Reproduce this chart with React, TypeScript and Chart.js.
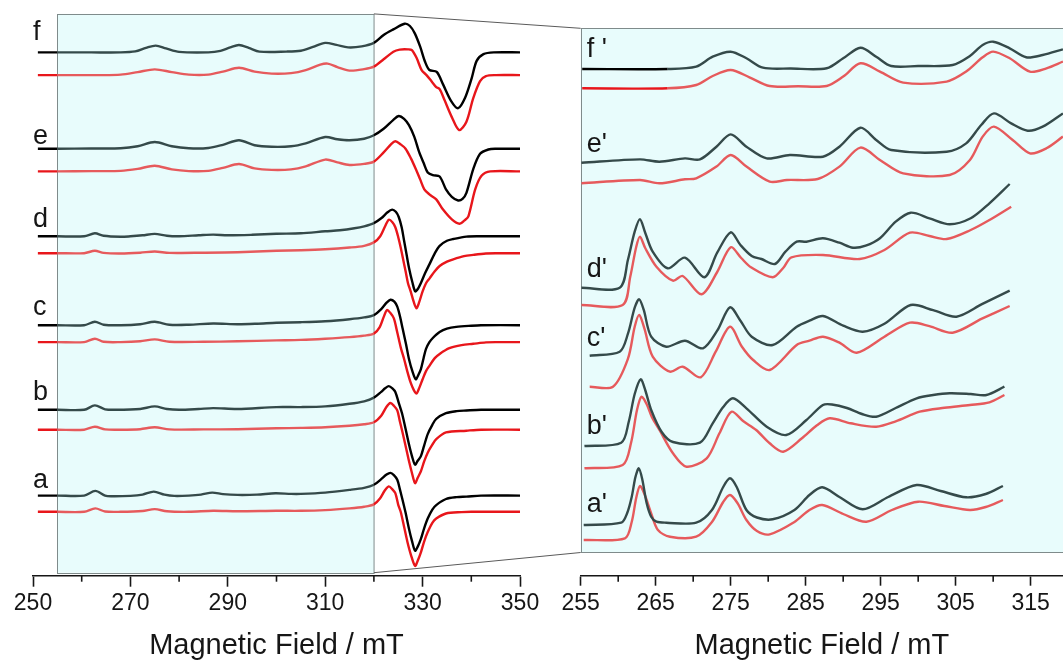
import React, { useEffect, useRef } from "react";
import { Chart, registerables } from "chart.js";
Chart.register(...registerables);

type Pt = [number, number];

// ---------- axis ticks ----------
const leftMajorTicks = [250, 270, 290, 310, 330, 350];
const leftMinorTicks = [260, 280, 300, 320, 340];
const rightMajorTicks = [255, 265, 275, 285, 295, 305, 315];
const rightMinorTicks = [260, 270, 280, 290, 300, 310];
const axisTitle = "Magnetic Field / mT";

// ---------- left panel spectra (field mT, relative intensity) ----------
const aBlack: Pt[] = [[251,0],[255,0],[260.5,0],[262.8,4.7],[264.8,0],[266,-0.7],[270,-0.3],[272.5,1],[274.8,4],[277,1],[279,-0.3],[282,0],[284.5,1],[286.8,3],[289,1.5],[292,0.7],[296,1],[299.8,2.4],[303,1.7],[305,1.7],[310,3],[315,5.7],[318,7.8],[320,10.8],[321.5,16.5],[322.6,21],[323.4,22.7],[324.1,20.5],[324.8,15.9],[325.3,7],[325.8,-2.7],[326.5,-17],[327.2,-33.1],[327.8,-45],[328.45,-55.1],[329,-51],[329.65,-43.3],[330.3,-33],[331.05,-23],[332,-14],[332.8,-9.5],[334.8,-3.4],[337,-1.5],[339,-1],[342,0],[350,0]];
const aRed: Pt[] = [[251,0],[255,0],[260.5,0],[262.8,3.4],[264.8,0.3],[268,0],[272.5,0.8],[275,2.7],[277.5,0.5],[282,0],[287,1],[292,0.5],[300,1],[305,1],[310,1.7],[315,3.4],[318,5],[320,7.4],[321.2,13],[322.2,21],[323.06,25.4],[323.8,22.5],[324.4,18.6],[325,7],[325.5,0],[326.2,-15],[326.9,-30.4],[327.6,-43],[328.45,-54.1],[329,-49],[329.65,-40.6],[330.3,-30],[331.05,-20.3],[332,-11],[332.8,-6.8],[334.8,-1.7],[338,-0.3],[340,0],[350,0]];
const bBlack: Pt[] = [[251,0],[255,0],[260.5,0],[262.7,4.4],[264.8,0.5],[267,0],[272,0.8],[275,3.4],[277.5,0.8],[280,0],[284,0.8],[287,1.7],[292,0.8],[300,2.7],[305,2.7],[310,3.4],[315,6],[318,8.5],[320,12.2],[321.5,18],[322.3,21.5],[323.06,23.7],[323.8,21.5],[324.4,17.9],[325.1,7],[325.8,-4],[326.5,-19],[327.2,-34.5],[327.8,-46],[328.45,-54.8],[329,-51],[329.65,-46.3],[330.3,-36],[331.05,-24.3],[332,-15],[332.8,-9.1],[334.8,-3.4],[337,-1.3],[339,-0.7],[342,0],[350,0]];
const bRed: Pt[] = [[251,0],[255,0],[260.5,0],[262.7,3],[264.8,0.3],[268,0],[272,0.5],[275,2.4],[278,0.3],[285,0.3],[292,0.5],[300,1.4],[305,1.8],[310,2.5],[315,4],[318,5.5],[320,7.4],[321.5,14],[322.6,23],[323.4,26.7],[324.1,24],[324.8,19.3],[325.3,9],[325.8,-1],[326.5,-16],[327.2,-31.4],[327.8,-43],[328.45,-53.4],[329,-48],[329.65,-41.6],[330.3,-32],[331.05,-23],[332,-15],[332.8,-9.5],[334.8,-2.7],[339,-1],[342,0],[350,0]];
const cBlack: Pt[] = [[251,0],[255,0],[260.5,0],[262.7,3.4],[264.5,0.5],[268,0],[272,1],[275,3.4],[278,0.5],[282,0.5],[287,1.7],[292,1],[296,1.5],[300,2.4],[305,3],[310,4],[315,6],[318,7.8],[320,10.1],[321.5,16],[322.6,22.5],[323.4,25.4],[324.2,23.5],[324.8,18.6],[325.4,8],[325.9,-3.4],[326.6,-19],[327.2,-33.8],[327.9,-46],[328.6,-54.1],[329.1,-50],[329.65,-43.9],[330.2,-33],[330.7,-23.7],[331.4,-17],[332.1,-12.8],[333.5,-6.8],[335,-3.5],[336.9,-1.7],[340,-0.5],[342,0],[350,0]];
const cRed: Pt[] = [[251,0],[255,0],[260.5,0],[262.7,3.4],[264.5,0.3],[268,0],[272,0.8],[275,2.7],[278,0.3],[285,0.3],[292,0.8],[300,1.7],[305,2.2],[310,3.4],[315,5],[318,6.5],[320,8.5],[321.2,15],[322,25],[322.7,32.1],[323.4,29],[324.1,23.7],[324.6,14],[325.1,3.4],[325.6,-7],[326.2,-16.9],[326.9,-30],[327.55,-40.6],[328.2,-48],[328.75,-51.4],[329.3,-46],[330,-37.2],[330.7,-29],[331.4,-23.7],[332.5,-16],[333.5,-11.8],[335.5,-6.1],[338,-3],[340.4,-1.7],[343,-0.3],[345,0],[350,0]];
const dBlack: Pt[] = [[251,0],[255,0],[260.5,0],[262.7,3],[264.5,0.5],[268,-0.5],[270,0],[272.5,1],[275,2.4],[277.5,0.5],[280,0],[284,1],[287,1.7],[290,1],[295,1.5],[300,2.5],[305,3],[310,5],[313,6],[316,8],[318,10],[320,13.2],[321.5,18],[322.8,24],[323.75,26.7],[324.5,24.5],[325.1,19.3],[325.7,9],[326.2,-4.4],[326.7,-18],[327.2,-31.4],[327.9,-46],[328.5,-55.1],[329.1,-52],[329.65,-46.7],[330.5,-37],[331.4,-28.1],[332.5,-17],[333.5,-9.5],[335,-4.5],[336.3,-2.7],[339,-0.3],[342,0],[350,0]];
const dRed: Pt[] = [[251,0],[255,0],[260.5,0],[262.7,2.4],[264.5,0.3],[268,-0.3],[272,0.5],[275,1.7],[278,0.3],[285,0.5],[292,1],[300,2.4],[305,3],[310,4],[315,5.7],[318,7.4],[320,10.8],[321.3,17],[322.3,27],[323.06,33.5],[323.8,31],[324.4,26],[325,16],[325.5,5.7],[326,-6],[326.5,-17.9],[327,-30],[327.55,-38.2],[328.2,-49],[328.75,-55.1],[329.3,-49],[330,-38.2],[330.7,-30],[331.4,-25.4],[332.5,-18],[333.5,-12.8],[335,-8.5],[336.3,-6.1],[338.5,-3],[340.4,-1.7],[343,-0.3],[345,0],[350,0]];
const eBlack: Pt[] = [[251,0],[255,0],[262,0.3],[268,0.5],[271.5,2.5],[275,6.8],[278.5,2.5],[282,0.5],[286,0.8],[289,4],[292.3,8.5],[295.5,3.5],[299,2],[303,2.5],[306,5.5],[310,11.8],[312.5,9.5],[315,8.5],[318,10],[320,13.5],[322,20],[324,29],[325.1,32.8],[326.2,30],[327.2,23.7],[328.3,12],[329.3,-3.4],[330.2,-14],[331.05,-23.7],[332.1,-26.4],[333.5,-27.7],[334.8,-40.6],[336,-48],[337.3,-51.7],[338.2,-50],[339,-44],[340.4,-20.3],[341.8,-5],[343.5,-0.7],[345,0],[350,0]];
const eRed: Pt[] = [[251,0],[255,0],[262,0.3],[268,0.5],[271.5,2.5],[275,5.7],[278.5,2],[282,0.3],[286,0.5],[289,3.5],[292.3,7.4],[295.5,3],[299,1.5],[303,2],[306,5],[310,11.8],[312.5,9],[315,6.4],[318,7.5],[320,9.8],[322,19],[323.5,27],[324.4,30.1],[325.5,27],[326.5,22.7],[327.6,13],[328.6,2.4],[329.5,-8],[330.35,-17.9],[331.4,-23],[332.8,-28],[334.2,-38.2],[336,-48],[337.6,-52.4],[338.6,-49],[339.4,-45],[340.8,-18],[342.1,-4.4],[343.9,0],[350,0]];
const fBlack: Pt[] = [[251,0],[255,0],[262,0],[268,0],[271,1],[273.2,4.5],[275.2,6.8],[277.3,4],[280,0.5],[286,0],[288.5,1.5],[290.5,5],[292.3,7.4],[294.3,4.5],[296.5,0.8],[302,0.8],[305,1.7],[307.5,5.5],[310,9.5],[312.3,7.5],[314.7,5],[317.5,6],[320,9.5],[322,17.4],[324,23],[326.3,28.7],[327.4,26.4],[328.4,19],[329.5,5.7],[330.5,-9.3],[331.4,-17.6],[332.9,-19.5],[334.2,-32],[335.9,-49],[337.3,-55.8],[338.7,-45.6],[340.1,-25.4],[341.1,-8.5],[342.5,-1.7],[344.6,0],[350,0]];
const fRed: Pt[] = [[251,0],[255,0],[264,0],[268,0.5],[271.5,3],[275,5.7],[278.5,3],[282,0.5],[286,0.5],[289,3.5],[292.3,7.4],[295.5,3.5],[299,1.5],[303,2],[306,5],[309,10.5],[310.5,11.5],[312.5,8],[315,4.5],[318,6],[320,8.5],[322,15.8],[324,23.4],[325.3,25.5],[327,25.7],[327.8,25],[328.8,16.8],[329.8,5],[330.8,0],[331.9,-6.6],[332.8,-12],[333.5,-14],[334.5,-25],[336,-42],[337.5,-55],[339,-46.6],[340.4,-23],[341.8,-6],[343,-1],[345,0],[350,0]];

// ---------- right panel spectra (zoomed region) ----------
const apBlack: Pt[] = [[255.4,0],[260.4,2.3],[261.2,12],[261.8,28],[262.3,48],[262.75,56.7],[263.2,46],[263.8,21.7],[264.4,8.3],[265.1,3.3],[266.4,2.3],[270.4,2.3],[272.5,15],[274,38],[274.9,46.7],[275.8,38],[277.1,15],[278.5,7.5],[280.6,5.7],[283.5,15],[285.5,30],[287.2,37.7],[289.5,28],[292.6,15.7],[296,28],[299.8,40],[303,34],[306.4,27.7],[309,31],[311.3,39]];
const apRed: Pt[] = [[255.4,0],[260.9,1.7],[261.8,18],[262.4,42],[262.9,54],[263.5,46],[264.4,26.7],[265.3,10],[266.9,3.3],[270.4,3.3],[272.5,18],[274,38],[274.9,45],[275.9,37],[277.1,20],[278.5,9],[280.2,5.7],[283.5,18],[285.5,30],[287.2,35],[290,26],[293.1,18.3],[296.5,30],[300,38.3],[303.5,34],[306.9,30],[309,33],[311.3,40]];
const bpBlack: Pt[] = [[255.5,0],[260.4,3.3],[261.4,24],[262.2,52],[263,66.7],[263.6,56],[264.4,36],[265.8,14],[267.3,4],[270.9,3.3],[272.6,22.7],[274,39],[275.3,47.7],[277.1,37.7],[279.8,19.3],[282.4,11],[285.1,26],[287.3,41],[288.5,41.5],[290.5,38],[292.5,32],[294.4,29.3],[297,38],[299.8,47.7],[302,51],[304.2,52.7],[307,52],[309.1,51],[311.5,59.3]];
const bpRed: Pt[] = [[255.5,0],[260.6,3.3],[261.7,25],[262.5,58],[263.1,71.6],[263.8,64],[264.5,51],[265.5,38.3],[267.3,15],[269.1,1.6],[271.8,10],[273.5,35],[275.1,56.6],[276.7,47],[278.4,38.3],[280.2,25],[282,16.6],[284.5,30],[286.5,43],[288.2,50],[291,45],[294.4,41.6],[297,47],[300.2,56.6],[303.5,60.5],[306.9,63.3],[309.5,66],[311.5,73.3]];
const cpBlack: Pt[] = [[256.2,0],[260.2,4],[261.3,22],[262.2,48],[262.8,56.4],[263.4,46],[264.4,19],[266.4,9],[268.9,15],[271.3,7.4],[273.2,25],[274.9,48.4],[276.3,35],[277.8,19],[280.6,10.7],[283.8,29],[285.5,35],[287.3,39.7],[290,30],[292.6,24],[295.5,32],[299,50.7],[302,45.5],[305.1,39],[308.5,51.5],[312.2,65]];
const cpRed: Pt[] = [[256.2,0],[259.3,0],[261.3,28],[262.2,60],[262.8,71.7],[263.5,58],[264.6,30],[266.9,15],[268.6,20],[271,9.4],[273,35],[274.9,60],[276.5,40],[278,26.7],[280.2,16.7],[283.8,41.7],[285.5,46],[287.3,50],[289.5,44],[291.8,34],[295.5,50],[298.9,64],[301.5,60.5],[304.6,54],[308.5,68],[312.2,80.7]];
const dpBlack: Pt[] = [[255.1,0],[260.2,0],[261.3,28],[262.2,56],[262.9,68.4],[263.6,55],[264.6,36],[266.6,19.4],[268.9,30],[271.5,10.4],[273.2,35],[275,55.4],[276.3,42.7],[277.8,31.7],[279.1,28.7],[280.9,23.7],[282.3,36],[283.8,46],[285.1,46],[287.3,49.4],[289.5,45],[291.3,40],[293,42],[294.9,49.4],[297,66],[299,75],[301.5,69.4],[304.2,63.4],[307,69.4],[309.5,84.4],[312.2,103.7]];
const dpRed: Pt[] = [[255.1,0],[260.6,0],[261.6,28],[262.4,58],[262.9,68.3],[263.6,57],[265.1,38.3],[267.3,24.3],[268.6,29],[271.1,10.7],[273.2,33],[275,57.7],[276.4,47],[277.7,37.7],[280.6,27.7],[282,37],[283.1,47.7],[287.3,50],[292.2,46],[295.5,55],[298.9,72.3],[301.5,69],[303.8,66],[307,75],[309.5,85],[312.4,98.3]];
const epBlack: Pt[] = [[255.1,0],[262.9,3.3],[265.5,1],[268.9,4.3],[270.9,3.3],[273.1,16],[275,28.3],[277.1,16],[279.8,4.3],[282.9,7.7],[287.3,6],[289.5,16],[292.3,35],[294.4,22.7],[296.4,12.7],[303.8,11],[306.4,19.3],[308.4,37.7],[310.1,49.3],[312.4,39.3],[314.6,32],[316.6,36],[319.3,49.3]];
const epRed: Pt[] = [[255.1,0],[262.9,3.3],[265.5,0],[268.9,4],[270.4,5],[273.1,16.7],[275,28.3],[277.1,16.7],[280.2,1.7],[282.5,3.3],[286.6,4.3],[289.5,16.7],[292.3,35.7],[294.9,23.3],[298,10],[304.2,8.3],[306.9,23.3],[308.6,46.7],[310.1,56.7],[312.6,43.3],[314.9,30],[317.1,35],[319.3,46.7]];
const fpBlack: Pt[] = [[255.2,0],[266.6,0],[270.4,2.3],[272.6,12.3],[275,17.3],[277.1,10.7],[279.3,1.3],[283,0.5],[287.8,0.7],[290,10.7],[292.3,21.3],[294.4,12.3],[296.4,3],[300,3],[304.6,4],[306.9,13],[308.6,24],[310,27.3],[312.2,20.7],[314.4,11.7],[316.6,14],[319.3,19.7]];
const fpRed: Pt[] = [[255.2,0],[266.6,0],[270.4,3.3],[272.6,12.3],[275,18.3],[277.5,11],[280.2,2.3],[284,2],[287.8,2.3],[290,11.7],[292.3,25],[294.9,16.7],[298,5.7],[303.8,6.7],[306.4,16.7],[308.6,31],[310,36.7],[312.2,30],[314.9,16.7],[317.1,20],[319.3,26.7]];

// stacking offsets (a..f)
const leftBlackOffsets = [80.1, 165.9, 250.5, 339.4, 426.9, 523.3];
const leftRedOffsets = [63.9, 146, 233.6, 322.5, 404.3, 500.6];
const rightBlackOffsets = [50.7, 129.7, 220, 288, 413, 506.7];
const rightRedOffsets = [35.7, 107.4, 189, 270.7, 392.4, 487.4];

const leftBlackSeries = [aBlack, bBlack, cBlack, dBlack, eBlack, fBlack];
const leftRedSeries = [aRed, bRed, cRed, dRed, eRed, fRed];
const rightBlackSeries = [apBlack, bpBlack, cpBlack, dpBlack, epBlack, fpBlack];
const rightRedSeries = [apRed, bpRed, cpRed, dpRed, epRed, fpRed];

const leftLabels = ["a", "b", "c", "d", "e", "f"];
const rightLabels = ["a'", "b'", "c'", "d'", "e'", "f '"];
const leftLabelY = [88.2, 175.4, 260.7, 348.5, 432, 535.7];
const rightLabelY = [64, 141.7, 230, 299, 424, 519];

// ---------- styling ----------
const FONT = '"Liberation Sans", Arial, Helvetica, sans-serif';
const INK = "#161616";
const BLACK = "#000000";
const RED = "#e8161b";
const SLATE = "#354a4a";
const LIGHT_RED = "#e65a5c";
const SHADE = "#e8fcfc";
const BOX_LINE = "#7f8b8b";
const W = 1063;
const H = 663;
const AXIS_Y = 575.7;
const LEFT_W = 545;

const leftBox = { xMin: 255, xMax: 320, yMin: 3, yMax: 561.8 };
const rightBox = { xMin: 255, xMax: 330, yMin: 23.2, yMax: 547.4 };
const rightPureUntil = 266.6; // f' traces drawn unshaded below this field

function segColor(test: (x: number, i: number) => boolean, inside: string, outside: string, idx: number) {
  return (ctx: any) => {
    const m = (ctx.p0.parsed.x + ctx.p1.parsed.x) / 2;
    return test(m, idx) ? inside : outside;
  };
}

function buildDatasets(
  blacks: Pt[][], reds: Pt[][], bOff: number[], rOff: number[],
  test: (x: number, i: number) => boolean
) {
  const ds: any[] = [];
  blacks.forEach((s, i) => {
    ds.push({
      data: s.map(([x, y]) => ({ x, y: y + bOff[i] })),
      borderColor: BLACK,
      segment: { borderColor: segColor(test, SLATE, BLACK, i) },
    });
  });
  reds.forEach((s, i) => {
    ds.push({
      data: s.map(([x, y]) => ({ x, y: y + rOff[i] })),
      borderColor: RED,
      segment: { borderColor: segColor(test, LIGHT_RED, RED, i) },
    });
  });
  return ds;
}

function shadePlugin(box: { xMin: number; xMax: number; yMin: number; yMax: number }) {
  return {
    id: "shade",
    beforeDatasetsDraw(chart: any) {
      const { ctx, scales } = chart;
      const x0 = scales.x.getPixelForValue(box.xMin);
      const x1 = scales.x.getPixelForValue(box.xMax);
      const y0 = scales.y.getPixelForValue(box.yMax);
      const y1 = scales.y.getPixelForValue(box.yMin);
      ctx.save();
      ctx.fillStyle = SHADE;
      ctx.fillRect(x0, y0, x1 - x0, y1 - y0);
      ctx.strokeStyle = BOX_LINE;
      ctx.lineWidth = 1;
      ctx.strokeRect(Math.round(x0) + 0.5, Math.round(y0) + 0.5, x1 - x0, Math.round(y1 - y0));
      ctx.restore();
    },
  };
}

function labelPlugin(texts: string[], ys: number[], xVal: number) {
  return {
    id: "seriesLabels",
    afterDatasetsDraw(chart: any) {
      const { ctx, scales } = chart;
      ctx.save();
      ctx.fillStyle = INK;
      ctx.font = `27px ${FONT}`;
      ctx.textAlign = "left";
      ctx.textBaseline = "alphabetic";
      texts.forEach((t, i) => {
        ctx.fillText(t, scales.x.getPixelForValue(xVal), scales.y.getPixelForValue(ys[i]));
      });
      ctx.restore();
    },
  };
}

function minorPlugin(values: number[], len: number) {
  return {
    id: "minorTicks",
    afterDraw(chart: any) {
      const s = chart.scales.x;
      const ctx = chart.ctx;
      ctx.save();
      ctx.strokeStyle = INK;
      ctx.lineWidth = 1.6;
      values.forEach((v) => {
        const x = s.getPixelForValue(v);
        ctx.beginPath();
        ctx.moveTo(x, s.top);
        ctx.lineTo(x, s.top + len);
        ctx.stroke();
      });
      ctx.restore();
    },
  };
}

function makeConfig(opts: {
  datasets: any[]; min: number; max: number; major: number[]; minor: number[];
  padLeft: number; padRight: number; tickLen: number; tickPad: number; plugins: any[];
}) {
  return {
    type: "line" as const,
    data: { datasets: opts.datasets },
    options: {
      animation: false as const,
      responsive: false,
      layout: { padding: { left: opts.padLeft, right: opts.padRight, top: 0, bottom: 0 } },
      plugins: { legend: { display: false }, tooltip: { enabled: false } },
      elements: {
        point: { radius: 0 },
        line: { borderWidth: 2.4, cubicInterpolationMode: "default" as const, tension: 0.3, fill: false },
      },
      scales: {
        x: {
          type: "linear" as const,
          min: opts.min,
          max: opts.max,
          afterBuildTicks: (axis: any) => {
            axis.ticks = opts.major.map((v) => ({ value: v }));
          },
          afterFit: (axis: any) => {
            axis.height = H - AXIS_Y;
          },
          ticks: {
            autoSkip: false,
            maxRotation: 0,
            padding: opts.tickPad,
            color: INK,
            font: { family: FONT, size: 23 },
          },
          grid: {
            display: true,
            drawOnChartArea: false,
            drawTicks: true,
            tickLength: opts.tickLen,
            tickColor: INK,
            tickWidth: 1.6,
          },
          border: { display: true, color: INK, width: 1.6 },
          title: {
            display: true,
            text: axisTitle,
            color: INK,
            font: { family: FONT, size: 29 },
            padding: { top: 0, bottom: 0 },
          },
        },
        y: { type: "linear" as const, display: false, min: 0, max: AXIS_Y },
      },
    },
    plugins: opts.plugins,
  };
}

export default function App() {
  const leftRef = useRef<HTMLCanvasElement>(null);
  const rightRef = useRef<HTMLCanvasElement>(null);
  const overRef = useRef<HTMLCanvasElement>(null);

  useEffect(() => {
    document.body.style.margin = "0";
    const inLeftBox = (x: number) => x > leftBox.xMin && x < leftBox.xMax;
    const inRightShade = (x: number, i: number) => !(i === 5 && x < rightPureUntil);

    const left = new Chart(
      leftRef.current as HTMLCanvasElement,
      makeConfig({
        datasets: buildDatasets(leftBlackSeries, leftRedSeries, leftBlackOffsets, leftRedOffsets, inLeftBox),
        min: 250, max: 350, major: leftMajorTicks, minor: leftMinorTicks,
        padLeft: 33, padRight: LEFT_W - 520, tickLen: 11, tickPad: 3,
        plugins: [shadePlugin(leftBox), labelPlugin(leftLabels, leftLabelY, 250), minorPlugin(leftMinorTicks, 6)],
      }) as any
    );
    const right = new Chart(
      rightRef.current as HTMLCanvasElement,
      makeConfig({
        datasets: buildDatasets(rightBlackSeries, rightRedSeries, rightBlackOffsets, rightRedOffsets, inRightShade),
        min: 255, max: 319.31, major: rightMajorTicks, minor: rightMinorTicks,
        padLeft: 580.7 - LEFT_W, padRight: 0, tickLen: 10, tickPad: 4,
        plugins: [shadePlugin(rightBox), labelPlugin(rightLabels, rightLabelY, 255.8), minorPlugin(rightMinorTicks, 6)],
      }) as any
    );

    const oc = overRef.current as HTMLCanvasElement;
    const ctx = oc.getContext("2d") as CanvasRenderingContext2D;
    ctx.clearRect(0, 0, W, H);
    const lx = left.scales.x, ly = left.scales.y, rx = right.scales.x, ry = right.scales.y;
    ctx.strokeStyle = "#5a5a5a";
    ctx.lineWidth = 1;
    ctx.beginPath();
    ctx.moveTo(lx.getPixelForValue(leftBox.xMax), ly.getPixelForValue(leftBox.yMax));
    ctx.lineTo(LEFT_W + rx.getPixelForValue(rightBox.xMin), ry.getPixelForValue(rightBox.yMax));
    ctx.moveTo(lx.getPixelForValue(leftBox.xMax), ly.getPixelForValue(leftBox.yMin));
    ctx.lineTo(LEFT_W + rx.getPixelForValue(rightBox.xMin), ry.getPixelForValue(rightBox.yMin));
    ctx.stroke();

    return () => {
      left.destroy();
      right.destroy();
    };
  }, []);

  return (
    <div style={{ position: "fixed", left: 0, top: 0, width: W, height: H, background: "#fff", overflow: "hidden" }}>
      <canvas ref={leftRef} width={LEFT_W} height={H} style={{ position: "absolute", left: 0, top: 0, width: LEFT_W, height: H }} />
      <canvas ref={rightRef} width={W - LEFT_W} height={H} style={{ position: "absolute", left: LEFT_W, top: 0, width: W - LEFT_W, height: H }} />
      <canvas ref={overRef} width={W} height={H} style={{ position: "absolute", left: 0, top: 0, width: W, height: H, pointerEvents: "none" }} />
    </div>
  );
}
